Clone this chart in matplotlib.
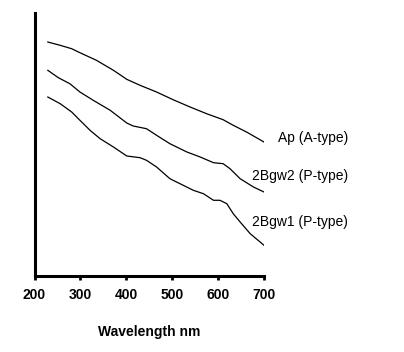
import matplotlib
matplotlib.use("Agg")
import matplotlib.pyplot as plt

plt.rcParams['font.family'] = ['Liberation Sans', 'DejaVu Sans']

# spectra (arbitrary absorbance units)
wl_ap = [229, 256, 281, 299, 335, 372, 401, 430, 466, 502, 539, 575, 611, 633, 662, 700]
ap = [234, 230.7, 227.3, 223.3, 215.7, 205.7, 196.7, 190.7, 184, 176.3, 169, 162.3, 156.3, 150.7, 144, 134]

wl_bgw2 = [229, 252, 277, 299, 328, 365, 401, 415, 444, 466, 495, 532, 561, 590, 611, 626, 648, 677, 700]
bgw2 = [205.7, 198.3, 192.3, 184, 175.7, 165.7, 153, 150, 147.3, 140.7, 132.3, 124, 119, 113.3, 112.3, 107.3, 97.3, 89, 84]

wl_bgw1 = [229, 256, 281, 299, 321, 343, 372, 401, 430, 444, 466, 495, 524, 546, 568, 590, 604, 619, 633, 648, 670, 700]
bgw1 = [179, 172.3, 164, 155.7, 145.7, 137.3, 129, 120, 118.3, 115.7, 109, 97.3, 90.7, 85.7, 82.3, 75.7, 75.7, 72.3, 62.3, 54, 42.3, 30.7]

labels = ['Ap (A-type)', '2Bgw2 (P-type)', '2Bgw1 (P-type)']
xticks = [200, 300, 400, 500, 600, 700]

fig = plt.figure(figsize=(4.04, 3.52), dpi=100)
ax = fig.add_axes([0.0854, 0.216, 0.568, 0.747])

ax.plot(wl_ap, ap, color='black', lw=0.9)
ax.plot(wl_bgw2, bgw2, color='black', lw=0.9)
ax.plot(wl_bgw1, bgw1, color='black', lw=0.9)

ax.set_xlim(200, 700)
ax.set_ylim(0, 263)
ax.set_xticks(xticks)
ax.set_yticks([])
for s in ['top', 'right']:
    ax.spines[s].set_visible(False)
ax.spines['left'].set_linewidth(2.2)
ax.spines['bottom'].set_linewidth(2.2)
ax.tick_params(axis='x', direction='out', length=3, width=2, pad=6)
for t in ax.get_xticklabels():
    t.set_fontsize(10)
    t.set_fontweight('bold')
ax.set_xlabel('Wavelength nm', fontsize=10, fontweight='bold', labelpad=16)

# series labels next to the line ends
fig.text(278 / 404, 1 - 138 / 352, labels[0], fontsize=10, va='center')
fig.text(252 / 404, 1 - 176 / 352, labels[1], fontsize=10, va='center')
fig.text(252 / 404, 1 - 222 / 352, labels[2], fontsize=10, va='center')

fig.savefig('out.png', dpi=100)
